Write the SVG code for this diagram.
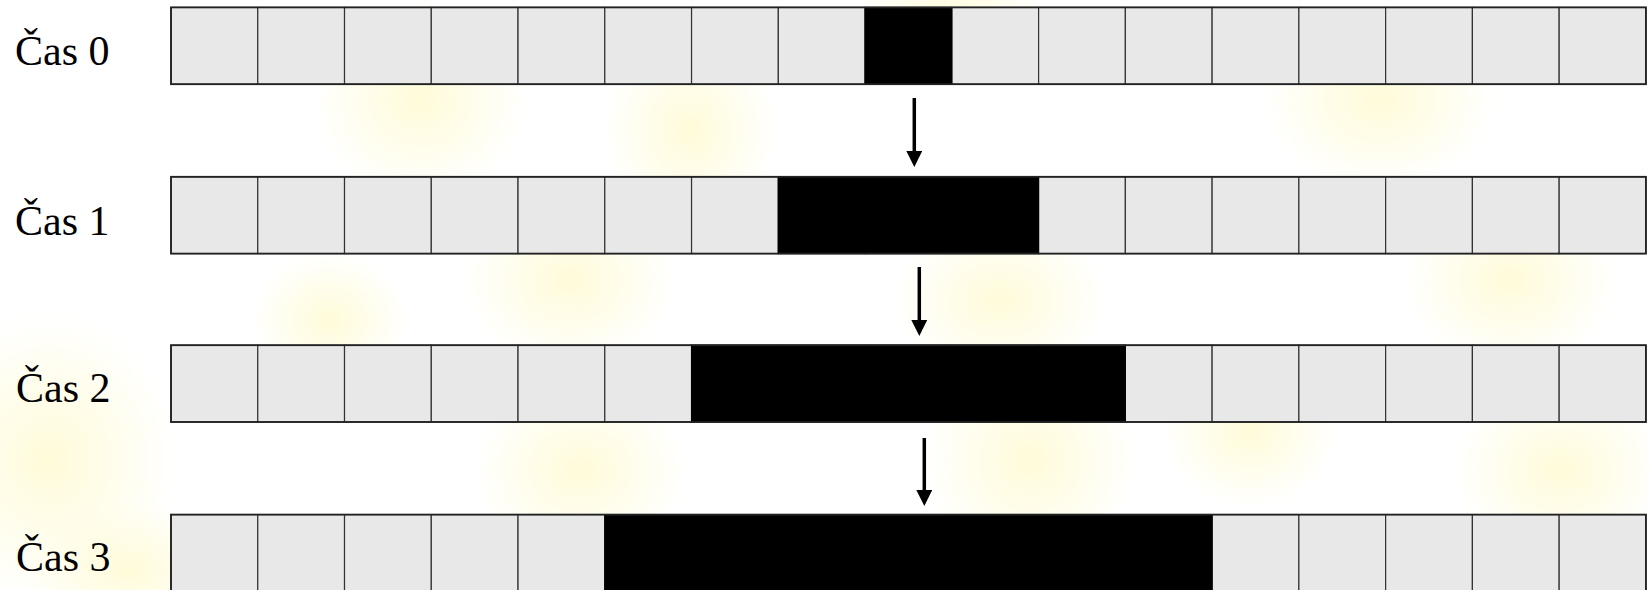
<svg xmlns="http://www.w3.org/2000/svg" width="1650" height="590" viewBox="0 0 1650 590">
<style>
.cell{fill:#e8e8e8;stroke:#333;stroke-width:1.2}
.on{fill:#000;stroke:#000;stroke-width:1}
.frame{fill:none;stroke:#222;stroke-width:1.8}
.lbl{font-family:"Liberation Serif",serif;font-size:42px;fill:#000}
.arr{stroke:#000;stroke-width:3.5;fill:none}
</style>
<defs>
<radialGradient id="y">
<stop offset="0" stop-color="#fffbd2" stop-opacity="0.85"/>
<stop offset="0.5" stop-color="#fffbd8" stop-opacity="0.5"/>
<stop offset="1" stop-color="#fffde0" stop-opacity="0"/>
</radialGradient>
<marker id="ah" markerUnits="userSpaceOnUse" markerWidth="16" markerHeight="16" viewBox="0 0 16 16" refX="2" refY="8" orient="auto">
<path d="M0,0 L16,8 L0,16 z" fill="#000"/>
</marker>
<g id="rowcells">
<rect class="cell" x="171" y="0" width="86.76" height="76.8"/>
<rect class="cell" x="257.76" y="0" width="86.76" height="76.8"/>
<rect class="cell" x="344.52" y="0" width="86.76" height="76.8"/>
<rect class="cell" x="431.28" y="0" width="86.76" height="76.8"/>
<rect class="cell" x="518.04" y="0" width="86.76" height="76.8"/>
<rect class="cell" x="604.8" y="0" width="86.76" height="76.8"/>
<rect class="cell" x="691.56" y="0" width="86.76" height="76.8"/>
<rect class="cell" x="778.32" y="0" width="86.76" height="76.8"/>
<rect class="cell" x="865.08" y="0" width="86.76" height="76.8"/>
<rect class="cell" x="951.84" y="0" width="86.76" height="76.8"/>
<rect class="cell" x="1038.6" y="0" width="86.76" height="76.8"/>
<rect class="cell" x="1125.36" y="0" width="86.76" height="76.8"/>
<rect class="cell" x="1212.12" y="0" width="86.76" height="76.8"/>
<rect class="cell" x="1298.88" y="0" width="86.76" height="76.8"/>
<rect class="cell" x="1385.64" y="0" width="86.76" height="76.8"/>
<rect class="cell" x="1472.4" y="0" width="86.76" height="76.8"/>
<rect class="cell" x="1559.16" y="0" width="86.76" height="76.8"/>
</g>
</defs>
<g id="background">
<rect x="0" y="0" width="1650" height="590" fill="#fff"/>
<ellipse cx="420" cy="100" rx="110" ry="100" fill="url(#y)"/>
<ellipse cx="690" cy="130" rx="90" ry="100" fill="url(#y)"/>
<ellipse cx="1380" cy="100" rx="120" ry="90" fill="url(#y)"/>
<ellipse cx="950" cy="20" rx="100" ry="60" fill="url(#y)"/>
<ellipse cx="570" cy="280" rx="110" ry="90" fill="url(#y)"/>
<ellipse cx="1510" cy="280" rx="110" ry="90" fill="url(#y)"/>
<ellipse cx="1000" cy="300" rx="110" ry="80" fill="url(#y)"/>
<ellipse cx="50" cy="460" rx="130" ry="150" fill="url(#y)"/>
<ellipse cx="1030" cy="460" rx="110" ry="110" fill="url(#y)"/>
<ellipse cx="580" cy="470" rx="110" ry="90" fill="url(#y)"/>
<ellipse cx="1560" cy="470" rx="110" ry="90" fill="url(#y)"/>
<ellipse cx="130" cy="570" rx="100" ry="70" fill="url(#y)"/>
<ellipse cx="330" cy="320" rx="80" ry="70" fill="url(#y)"/>
<ellipse cx="1250" cy="430" rx="90" ry="80" fill="url(#y)"/>
</g>
<g id="row0">
<text class="lbl" x="15" y="65">Čas 0</text>
<use href="#rowcells" y="7.4"/>
<rect class="on" x="865.08" y="7.4" width="86.76" height="76.8"/>
<rect class="frame" x="171" y="7.4" width="1474.92" height="76.8"/>
</g>
<g id="row1">
<text class="lbl" x="15" y="234.5">Čas 1</text>
<use href="#rowcells" y="176.8"/>
<rect class="on" x="778.32" y="176.8" width="260.28" height="76.8"/>
<rect class="frame" x="171" y="176.8" width="1474.92" height="76.8"/>
</g>
<g id="row2">
<text class="lbl" x="16" y="402">Čas 2</text>
<use href="#rowcells" y="345.2"/>
<rect class="on" x="691.56" y="345.2" width="433.8" height="76.8"/>
<rect class="frame" x="171" y="345.2" width="1474.92" height="76.8"/>
</g>
<g id="row3">
<text class="lbl" x="16" y="571">Čas 3</text>
<use href="#rowcells" y="514.6"/>
<rect class="on" x="604.8" y="514.6" width="607.32" height="76.8"/>
<rect class="frame" x="171" y="514.6" width="1474.92" height="76.8"/>
</g>
<g id="connectors">
<line class="arr" x1="914.3" y1="98" x2="914.3" y2="153" marker-end="url(#ah)"/>
<line class="arr" x1="919.3" y1="267" x2="919.3" y2="322" marker-end="url(#ah)"/>
<line class="arr" x1="924.3" y1="438" x2="924.3" y2="492" marker-end="url(#ah)"/>
</g>
</svg>
